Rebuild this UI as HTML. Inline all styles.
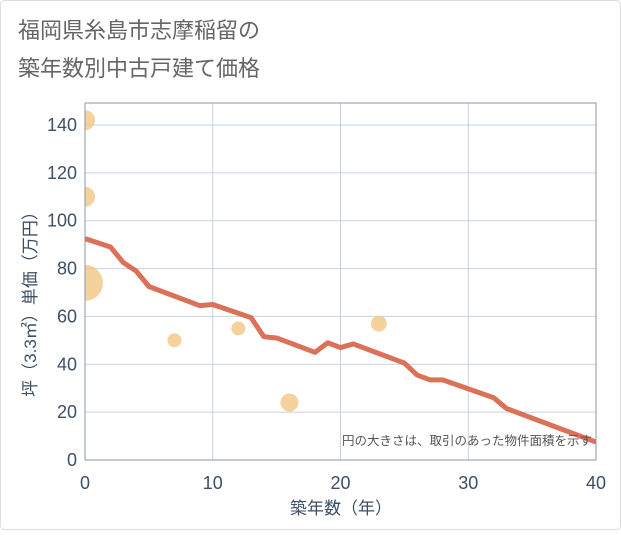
<!DOCTYPE html>
<html><head><meta charset="utf-8"><style>
body{margin:0;background:#fff;}
#wrap{width:621px;height:530px;position:relative;background:#fff;font-family:"Liberation Sans","Noto Sans CJK JP",sans-serif;}
</style></head><body>
<div id="wrap">
<svg id="chart" width="621" height="530" xmlns="http://www.w3.org/2000/svg">
<defs><clipPath id="plotclip"><rect x="85" y="103" width="511" height="357"/></clipPath></defs>
<rect x="0.5" y="0.5" width="620" height="529" fill="#fff" stroke="#ddd" rx="4"/>
<text x="18" y="38" font-size="22" fill="#666" font-family="Liberation Sans,Noto Sans CJK JP,sans-serif">福岡県糸島市志摩稲留の</text>
<text x="18" y="76" font-size="22" fill="#666" font-family="Liberation Sans,Noto Sans CJK JP,sans-serif">築年数別中古戸建て価格</text>
<g id="grid"></g><g id="marks" clip-path="url(#plotclip)"></g><g id="axes"></g>
<text x="341" y="514" font-size="17" fill="#3d4f66" text-anchor="middle" font-family="Liberation Sans,Noto Sans CJK JP,sans-serif">築年数（年）</text>
<text transform="translate(36,300) rotate(-90)" font-size="17" fill="#3d4f66" text-anchor="middle" font-family="Liberation Sans,Noto Sans CJK JP,sans-serif">坪（3.3㎡）単価（万円）</text>
<text x="592" y="445" font-size="12.5" fill="#555" text-anchor="end" font-family="Liberation Sans,Noto Sans CJK JP,sans-serif">円の大きさは、取引のあった物件面積を示す</text>
</svg>
</div>
<script>
const xTicks=[0,10,20,30,40];
const yTicks=[0,20,40,60,80,100,120,140];
const lineX=[0,2,3,4,5,9,10,13,14,15,18,19,20,21,25,26,27,28,32,33,40];
const lineY=[92.5,89,82.5,79,72.5,64.5,65,59.5,51.5,51,45,49,47,48.5,40.5,35.5,33.5,33.5,26,21.5,7.5];
const bubbleX=[0,0,0,7,12,16,23];
const bubbleY=[142,110,74,50,55,24,57];
const bubbleR=[10,10,18,7,7,9,8];
const L=85,R=596,T=103,B=460;
const sx=v=>L+(v/40)*(R-L);
const sy=v=>B-(v/140)*(B-125);
const NS="http://www.w3.org/2000/svg";
function mk(t,a,p){const e=document.createElementNS(NS,t);for(const k in a)e.setAttribute(k,a[k]);p.appendChild(e);return e;}
const grid=document.getElementById('grid'),marks=document.getElementById('marks'),axes=document.getElementById('axes');
xTicks.forEach(v=>{
 const g=mk('line',{x1:sx(v),x2:sx(v),y1:T,y2:B,stroke:'#c5d3e0','stroke-width':1},grid);
 
 
 const t=mk('text',{x:sx(v),y:489,'font-size':18,fill:'#3d4f66','text-anchor':'middle'},axes);t.textContent=v;
 
 
});
yTicks.forEach(v=>{
 const g=mk('line',{x1:L,x2:R,y1:sy(v),y2:sy(v),stroke:'#c5d3e0','stroke-width':1},grid);
 
 
 const t=mk('text',{x:77,y:sy(v)+6,'font-size':18,fill:'#3d4f66','text-anchor':'end'},axes);t.textContent=v;
 
 
});
const fr=mk('rect',{x:L,y:T,width:R-L,height:B-T,fill:'none',stroke:'#8a97a5','stroke-width':1},axes);


bubbleX.forEach((v,i)=>{
 const c=mk('circle',{cx:sx(v),cy:sy(bubbleY[i]),r:bubbleR[i],fill:'#f3c682','fill-opacity':0.8},marks);
 
 
});
const pl=mk('polyline',{points:lineX.map((v,i)=>sx(v)+','+sy(lineY[i])).join(' '),fill:'none',stroke:'#d9694f','stroke-width':5,'stroke-linejoin':'round','stroke-opacity':0.95},marks);


</script>
</body></html>
